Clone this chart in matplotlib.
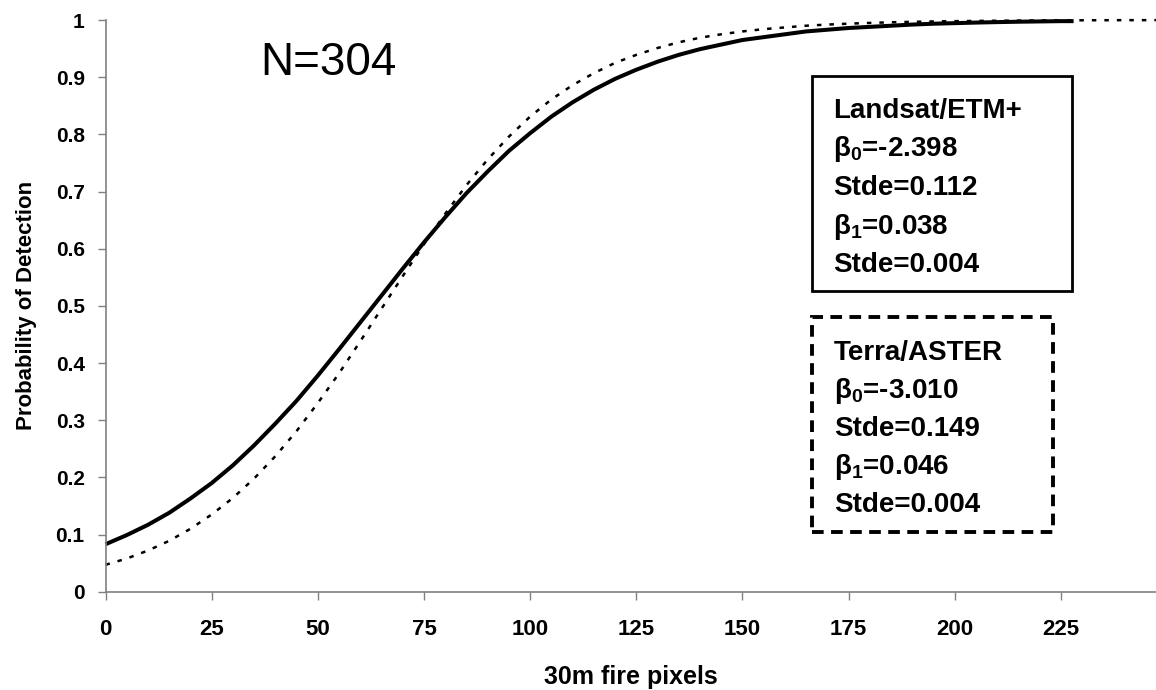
import matplotlib
matplotlib.use("Agg")
import matplotlib.pyplot as plt
from matplotlib.patches import Rectangle

plt.rcParams['font.family'] = ['Liberation Sans', 'DejaVu Sans']
plt.rcParams['mathtext.fontset'] = 'custom'
plt.rcParams['mathtext.rm'] = 'Liberation Sans:bold'
plt.rcParams['mathtext.it'] = 'Liberation Sans:bold'
plt.rcParams['mathtext.bf'] = 'Liberation Sans:bold'

# ---- data ----
landsat_x = [0, 5, 10, 15, 20, 25, 30, 35, 40, 45, 50, 55, 60, 65, 70, 75, 80, 85, 90, 95,
             100, 105, 110, 115, 120, 125, 130, 135, 140, 145, 150, 155, 160, 165, 170, 175,
             180, 185, 190, 195, 200, 205, 210, 215, 220, 225, 228]
landsat_p = [0.083, 0.099, 0.117, 0.138, 0.163, 0.190, 0.221, 0.256, 0.294, 0.334, 0.378,
             0.424, 0.471, 0.518, 0.565, 0.611, 0.655, 0.697, 0.735, 0.771, 0.802, 0.831,
             0.856, 0.878, 0.897, 0.913, 0.927, 0.939, 0.949, 0.957, 0.965, 0.970, 0.975,
             0.980, 0.983, 0.986, 0.988, 0.990, 0.992, 0.9935, 0.9945, 0.9955, 0.9963,
             0.997, 0.9975, 0.998, 0.998]

aster_x = [0, 5, 10, 15, 20, 25, 30, 35, 40, 45, 50, 55, 60, 65, 70, 75, 80, 85, 90, 95,
           100, 105, 110, 115, 120, 125, 130, 135, 140, 145, 150, 155, 160, 165, 170, 175,
           180, 185, 190, 195, 200, 210, 220, 230, 240, 248]
aster_p = [0.047, 0.058, 0.072, 0.089, 0.110, 0.135, 0.164, 0.198, 0.237, 0.281, 0.330,
           0.382, 0.438, 0.495, 0.552, 0.608, 0.661, 0.711, 0.756, 0.796, 0.831, 0.861,
           0.886, 0.907, 0.925, 0.939, 0.951, 0.961, 0.969, 0.975, 0.980, 0.984, 0.987,
           0.990, 0.992, 0.9936, 0.9949, 0.996, 0.9968, 0.9975, 0.998, 0.9987, 0.9992,
           0.9995, 0.9997, 0.9998]

x_ticks = [0, 25, 50, 75, 100, 125, 150, 175, 200, 225]
y_ticks = [0, 0.1, 0.2, 0.3, 0.4, 0.5, 0.6, 0.7, 0.8, 0.9, 1]
y_tick_labels = ['0', '0.1', '0.2', '0.3', '0.4', '0.5', '0.6', '0.7', '0.8', '0.9', '1']

landsat_lines = ['Landsat/ETM+', 'β$_0$=-2.398', 'Stde=0.112', 'β$_1$=0.038', 'Stde=0.004']
aster_lines = ['Terra/ASTER', 'β$_0$=-3.010', 'Stde=0.149', 'β$_1$=0.046', 'Stde=0.004']

W, H = 1156, 690
fig = plt.figure(figsize=(W / 100, H / 100), dpi=100)
ax = fig.add_axes([105.5 / W, 1 - 591.7 / H, (W - 105.5) / W, (591.7 - 20) / H])

ax.plot(aster_x, aster_p, color='black', lw=1.8, linestyle=(0, (1.8, 3.2)), clip_on=False)
ax.plot(landsat_x, landsat_p, color='black', lw=2.9, solid_capstyle='butt', clip_on=False)

ax.set_xlim(0, 247.4)
ax.set_ylim(0, 1)
ax.set_xticks(x_ticks)
ax.set_xticklabels([str(v) for v in x_ticks])
ax.set_yticks(y_ticks)
ax.set_yticklabels(y_tick_labels)

for s in ['top', 'right']:
    ax.spines[s].set_visible(False)
for s in ['left', 'bottom']:
    ax.spines[s].set_color('#808080')
    ax.spines[s].set_linewidth(1.2)

ax.tick_params(axis='both', direction='out', length=6, width=1.0, color='#808080')
ax.tick_params(axis='x', pad=14, labelsize=16)
ax.tick_params(axis='y', pad=9, labelsize=15)
for lab in ax.get_xticklabels() + ax.get_yticklabels():
    lab.set_fontweight('bold')

ax.set_xlabel('30m fire pixels', fontsize=18, fontweight='bold')
ax.xaxis.set_label_coords(0.5, -(677 - 591.7) / 571.7)
ax.xaxis.label.set_va('center')
ax.set_ylabel('Probability of Detection', fontsize=16, fontweight='bold')
ax.yaxis.set_label_coords((27 - 105.5) / 1050.5, 0.5)
ax.yaxis.label.set_va('center')
ax.yaxis.label.set_ha('center')

fig.text(260 / W, 1 - 75 / H, 'N=304', fontsize=33, ha='left', va='baseline')

# parameter boxes
fig.add_artist(Rectangle((811.7 / W, 1 - 290.7 / H), (1072 - 811.7) / W, (290.7 - 76) / H,
                         transform=fig.transFigure, fill=False, edgecolor='black', lw=2.0))
fig.add_artist(Rectangle((811.7 / W, 1 - 531.7 / H), (1052.7 - 811.7) / W, (531.7 - 316.7) / H,
                         transform=fig.transFigure, fill=False, edgecolor='black', lw=2.8,
                         linestyle=(0, (3.0, 1.9))))

for i, t in enumerate(landsat_lines):
    fig.text(833 / W, 1 - (118 + 38.5 * i) / H, t, fontsize=20, fontweight='bold',
             ha='left', va='baseline')
for i, t in enumerate(aster_lines):
    fig.text(834 / W, 1 - (360 + 38 * i) / H, t, fontsize=20, fontweight='bold',
             ha='left', va='baseline')

fig.savefig('out.png', dpi=100)
